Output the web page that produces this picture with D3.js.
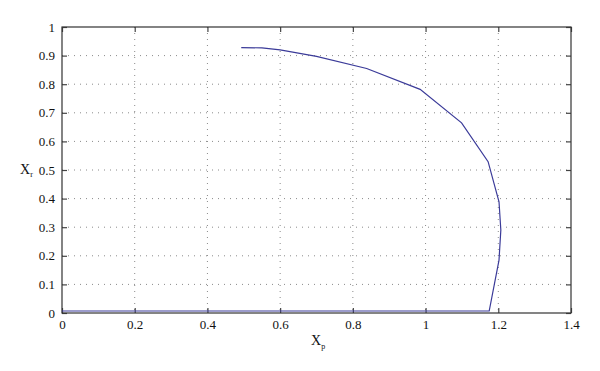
<!DOCTYPE html>
<html><head><meta charset="utf-8">
<script src="https://cdn.jsdelivr.net/npm/d3@7"></script>
<style>body{margin:0;background:#fff}svg{display:block}</style>
</head><body><svg id="c" width="600" height="371"></svg>
<script>
const xp = [0.493, 0.55, 0.6, 0.7, 0.838, 0.985, 1.099, 1.172, 1.202, 1.207, 1.202, 1.175, 0.0];
const xr = [0.928, 0.927, 0.92, 0.897, 0.855, 0.782, 0.665, 0.529, 0.389, 0.29, 0.185, 0.007, 0.007];
const xTicks = [0, 0.2, 0.4, 0.6, 0.8, 1, 1.2, 1.4];
const yTicks = [0, 0.1, 0.2, 0.3, 0.4, 0.5, 0.6, 0.7, 0.8, 0.9, 1];

const FONT = "'Liberation Serif', 'DejaVu Serif', serif";
const svg = d3.select("#c");
const L = 62, R = 571, T = 27, B = 313;
const x = d3.scaleLinear().domain([0, 1.4]).range([L, R]);
const y = d3.scaleLinear().domain([0, 1]).range([B, T]);
const fmt = d => d === 0 || d === 1 ? String(d) : d3.format(".1f")(d);

// grid
const g = svg.append("g");
g.selectAll(".vx").data(xTicks.slice(1, -1)).join("line")
  .attr("x1", d => x(d)).attr("x2", d => x(d)).attr("y1", T).attr("y2", B)
  .attr("stroke", "#8a8a8a").attr("stroke-width", 1).attr("stroke-dasharray", "1,5");
g.selectAll(".hy").data(yTicks.slice(1, -1)).join("line")
  .attr("y1", d => y(d)).attr("y2", d => y(d)).attr("x1", L).attr("x2", R)
  .attr("stroke", "#8a8a8a").attr("stroke-width", 1).attr("stroke-dasharray", "1,5");

// axes with inward ticks
const ax = (a, tr) => svg.append("g").attr("transform", tr).call(a)
  .attr("font-family", FONT).attr("font-size", 13)
  .call(s => s.select(".domain").remove())
  .call(s => s.selectAll("line").attr("stroke", "#444").attr("stroke-width", 1.2))
  .call(s => s.selectAll("text").attr("fill", "#111").style("font-family", FONT).style("font-size", "13px"));
ax(d3.axisBottom(x).tickValues(xTicks).tickFormat(fmt).tickSizeInner(-5).tickPadding(7), `translate(0,${B})`);
ax(d3.axisTop(x).tickValues(xTicks).tickFormat("").tickSizeInner(-5), `translate(0,${T})`);
ax(d3.axisLeft(y).tickValues(yTicks).tickFormat(fmt).tickSizeInner(-5).tickPadding(7), `translate(${L},0)`);
ax(d3.axisRight(y).tickValues(yTicks).tickFormat("").tickSizeInner(-5), `translate(${R},0)`);

svg.append("rect").attr("x", L).attr("y", T).attr("width", R - L).attr("height", B - T)
  .attr("fill", "none").attr("stroke", "#333").attr("stroke-width", 1.2);

// curve
const pts = xp.map((v, i) => [v, xr[i]]);
svg.append("path").datum(pts)
  .attr("d", d3.line().x(d => x(d[0])).y(d => y(d[1])))
  .attr("fill", "none").attr("stroke", "#3b3b99").attr("stroke-width", 1.2);

// labels
const yl = svg.append("text").attr("x", 20).attr("y", 174).style("font-family", FONT).style("font-size", "14px").attr("fill", "#111");
yl.append("tspan").text("X");
yl.append("tspan").attr("dy", 3).style("font-size", "8px").text("r");
const xl = svg.append("text").attr("x", 311).attr("y", 345).style("font-family", FONT).style("font-size", "14px").attr("fill", "#111");
xl.append("tspan").text("X");
xl.append("tspan").attr("dy", 4).style("font-size", "8px").text("p");
</script></body></html>
